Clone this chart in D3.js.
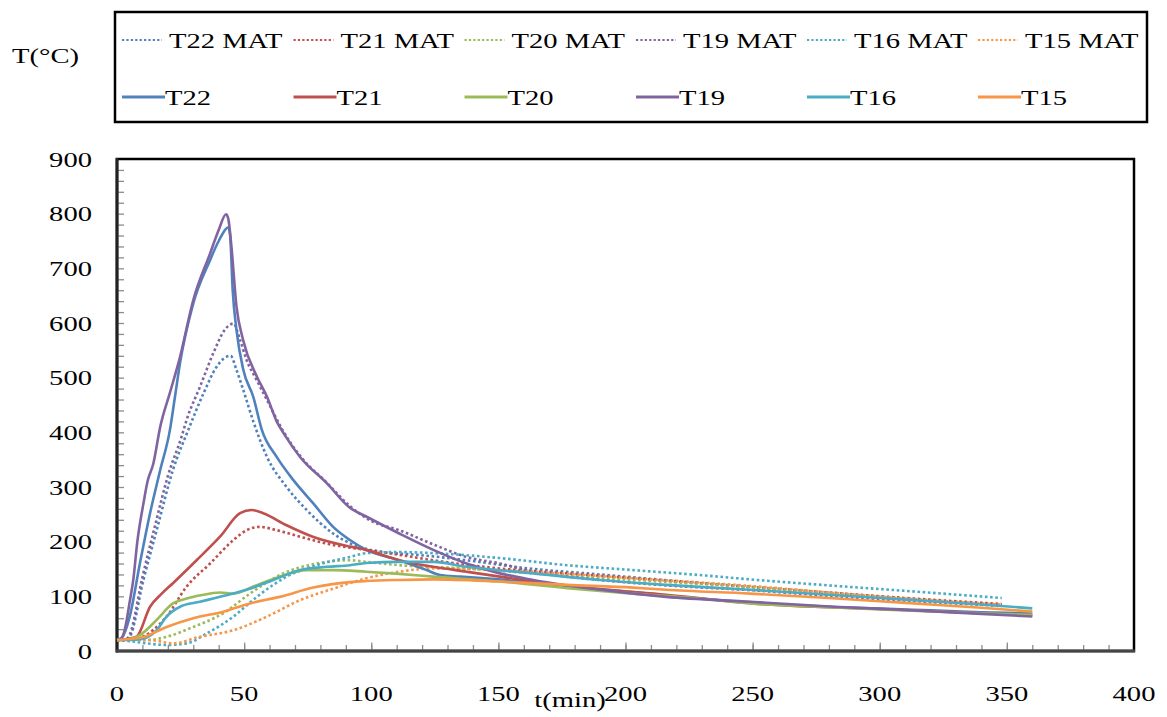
<!DOCTYPE html>
<html><head><meta charset="utf-8">
<script src="https://cdn.jsdelivr.net/npm/d3@7"></script>
<style>body{margin:0;background:#fff}svg{display:block}</style>
</head><body><svg id="c" width="1167" height="717"></svg>
<script>
// ---- data ----
const xTickLabels = [0, 50, 100, 150, 200, 250, 300, 350, 400];
const yTickLabels = [0, 100, 200, 300, 400, 500, 600, 700, 800, 900];
const seriesNames = ["T22 MAT","T21 MAT","T20 MAT","T19 MAT","T16 MAT","T15 MAT","T22","T21","T20","T19","T16","T15"];
const seriesColors = ["#4F81BD","#C0504D","#9BBB59","#8064A2","#4BACC6","#F79646","#4F81BD","#C0504D","#9BBB59","#8064A2","#4BACC6","#F79646"];

// [t(min), T(°C)] pairs
const T22MAT = [[0,20],[3,20],[5,26],[10.4,130],[15.6,221],[22,331],[28,404],[34,471],[39.2,520],[42,535],[44.7,540],[47,514],[49.7,477],[53.6,420],[59,355],[66.7,300],[74.6,258],[85,215],[91.6,197],[104.7,181],[118,176],[137.5,166],[160,152],[190,140],[220,128],[250,117],[280,106],[310,96],[348,84]];
const T21MAT = [[0,20],[5,20],[9,24],[19.5,63],[27.4,118],[36.6,160],[45.8,203],[51,221],[56.2,227],[62.8,221],[72,209],[85,194],[98,185],[111,176],[124.4,166],[150.6,151],[177,142],[203,133],[229,124],[250,117],[280,107],[310,97],[348,86]];
const T20MAT = [[0,20],[5,20],[11.7,20],[19.5,26],[30,44],[41.8,69],[52.3,105],[65.4,142],[78.5,160],[91.6,166],[98,163],[111,157],[137.5,151],[163.7,142],[203,130],[249,117],[280,106],[310,95],[348,82]];
const T19MAT = [[0,20],[3,20],[5,30],[10,135],[15,230],[20,320],[25.4,392],[27.4,423],[32.6,483],[37.9,545],[42,585],[45.8,599],[48.4,569],[51,532],[55,495],[60,450],[65,405],[72,357],[82.5,308],[91.6,265],[100,238],[111,221],[124.4,195],[137.5,172],[150.6,160],[163.7,145],[190,130],[216,120],[250,111],[280,101],[310,92],[348,83]];
const T16MAT = [[0,20],[5,18],[10,15],[19.5,11],[27.4,14],[35.3,32],[45.8,63],[55,99],[66.7,136],[78.5,157],[91.6,172],[98,179],[111,181],[124.4,179],[150.6,170],[177,157],[203,148],[229,139],[249,131],[280,120],[310,110],[348,97]];
const T15MAT = [[0,20],[5,20],[13,20],[22,14],[32.6,26],[45.8,38],[59,63],[72,93],[85,114],[98,133],[111,145],[124.4,151],[150.6,148],[177,141],[203,133],[249,119],[280,107],[310,96],[348,85]];

const T22 = [[0,20],[2,25],[5,63],[9,160],[13,252],[17,331],[20.8,404],[22.8,465],[24.8,527],[30,636],[36.6,715],[40,750],[43.8,775],[44.5,760],[45.5,660],[47,587],[49.7,514],[53.6,465],[57,404],[62.8,355],[69.3,313],[77.2,270],[85,227],[91.6,203],[98,185],[111,166],[121.8,148],[127,139],[135,136],[150,131],[175,120],[200,109],[229,96],[250,89],[280,81],[310,76],[340,71],[360,69]];
const T21 = [[0,20],[4,22],[7.7,26],[13,81],[17.6,105],[22,124],[31.3,166],[40.5,209],[48.4,252],[53,258],[57.5,252],[66.7,230],[77,209],[91.6,191],[98,185],[111,166],[124.4,154],[137.5,145],[150.6,136],[163.7,127],[190,113],[216,103],[250,87],[280,80],[310,75],[340,69],[360,65]];
const T20 = [[0,20],[5,22],[9,29],[15.6,57],[22,87],[27.4,96],[33,102],[40.5,107],[45.8,105],[53.6,118],[64,136],[74.6,148],[85,148],[98,145],[111,141],[124.4,136],[150.6,127],[177,115],[203,105],[229,96],[249,87],[280,80],[310,74],[340,69],[360,66]];
const T19 = [[0,20],[1.5,22],[3,38],[5,90],[6.4,130],[8,200],[10.4,270],[12,310],[14.3,343],[17,410],[20.8,472],[24.8,538],[30,642],[36.6,727],[40,770],[42.9,799],[43.8,790],[45,740],[47,630],[49.6,569],[55,502],[59,465],[62.8,420],[66,395],[72,355],[82.5,307],[91.6,262],[98,246],[111,215],[124.4,185],[137.5,160],[150.6,142],[163.7,130],[190,112],[216,99],[249,90],[282,81],[310,75],[340,68],[360,63]];
const T16 = [[0,20],[5,20],[10,22],[15.6,38],[19.5,63],[24.8,81],[32.6,90],[43,102],[51,112],[61.5,130],[72,148],[82.5,154],[91.6,157],[98,161],[111,163],[124.4,163],[137.5,154],[163.7,142],[190,130],[216,121],[249,112],[280,103],[310,94],[340,85],[360,78]];
const T15 = [[0,20],[5,22],[10,25],[19.5,44],[30,60],[41.8,72],[52.3,87],[64,99],[77.2,116],[91.6,126],[98,128],[111,130],[124.4,131],[150.6,127],[177,121],[203,116],[216,112],[249,105],[280,97],[310,88],[340,79],[360,72]];

const seriesData = [T22MAT,T21MAT,T20MAT,T19MAT,T16MAT,T15MAT,T22,T21,T20,T19,T16,T15];

// ---- drawing ----
const svg = d3.select("#c");
svg.append("rect").attr("width",1167).attr("height",717).attr("fill","#fff");
const FONT = "'Liberation Serif','Times New Roman',serif";
const FS = 22, SX = 1.3;

function label(g, x, y, txt, anchor) {
  return g.append("text")
    .attr("transform", `translate(${x},${y}) scale(${SX},1)`)
    .attr("text-anchor", anchor || "start")
    .attr("font-family", FONT).attr("font-size", FS).attr("fill", "#000")
    .text(txt);
}

const x = d3.scaleLinear().domain([0, 400]).range([117, 1134]);
const y = d3.scaleLinear().domain([0, 900]).range([651, 159]);

// frame
svg.append("rect").attr("x",117).attr("y",159).attr("width",1134-117).attr("height",651-159)
  .attr("fill","none").attr("stroke","#000").attr("stroke-width",2.5);

// minor ticks
const gx = svg.append("g").attr("transform",`translate(0,651)`);
gx.call(d3.axisBottom(x).tickValues(d3.range(10,400,10)).tickSize(-6).tickFormat(""))
  .call(g=>g.select(".domain").remove())
  .selectAll("line").attr("stroke","#8c8c8c").attr("stroke-width",1.3);
const gxM = svg.append("g").attr("transform",`translate(0,651)`);
gxM.call(d3.axisBottom(x).tickValues([50,100,150,200,250,300,350]).tickSize(-8.5).tickFormat(""))
  .call(g=>g.select(".domain").remove())
  .selectAll("line").attr("stroke","#8c8c8c").attr("stroke-width",1.3);
const gy = svg.append("g").attr("transform",`translate(117,0)`);
gy.call(d3.axisLeft(y).tickValues(d3.range(20,900,20)).tickSize(-7).tickFormat(""))
  .call(g=>g.select(".domain").remove())
  .selectAll("line").attr("stroke","#8c8c8c").attr("stroke-width",1.3);

// axis lines
svg.append("line").attr("x1",117).attr("x2",117).attr("y1",158).attr("y2",652.5)
  .attr("stroke","#222").attr("stroke-width",3);
svg.append("line").attr("x1",116).attr("x2",1135).attr("y1",651).attr("y2",651)
  .attr("stroke","#444").attr("stroke-width",3);

// tick labels
const lab = svg.append("g");
xTickLabels.forEach(v => label(lab, x(v), 701, String(v), "middle"));
yTickLabels.forEach(v => label(lab, 92, y(v) + 7.5, String(v), "end"));
label(lab, 570, 707, "t(min)", "middle");
label(lab, 12, 63, "T(°C)", "start");

// series
const line = d3.line().x(d => x(d[0])).y(d => y(d[1])).curve(d3.curveMonotoneX);
const plot = svg.append("g");
seriesData.forEach((s, i) => {
  const dotted = i < 6;
  plot.append("path").datum(s).attr("d", line)
    .attr("fill","none").attr("stroke", seriesColors[i])
    .attr("stroke-width", dotted ? 2.6 : 2.6)
    .attr("stroke-dasharray", dotted ? "2.6 2.6" : null)
    .attr("stroke-linejoin","round");
});

// legend
const lg = svg.append("g");
lg.append("rect").attr("x",115).attr("y",12).attr("width",1147-115).attr("height",122-12)
  .attr("fill","#fff").attr("stroke","#000").attr("stroke-width",2.5);
const colX = [122, 293.5, 464.5, 636, 807, 978];
seriesNames.forEach((n, i) => {
  const row = i < 6 ? 0 : 1;
  const c = i % 6;
  const cy = row === 0 ? 40 : 97;
  const x0 = colX[c];
  if (row === 0) {
    lg.append("line").attr("x1",x0).attr("x2",x0+40).attr("y1",cy).attr("y2",cy)
      .attr("stroke",seriesColors[i]).attr("stroke-width",2.2).attr("stroke-dasharray","2.2 2.2");
    label(lg, x0+47, cy+7.5, n, "start");
  } else {
    lg.append("line").attr("x1",x0).attr("x2",x0+43).attr("y1",cy).attr("y2",cy)
      .attr("stroke",seriesColors[i]).attr("stroke-width",3);
    label(lg, x0+43, cy+7.5, n, "start");
  }
});
</script>
</body></html>
